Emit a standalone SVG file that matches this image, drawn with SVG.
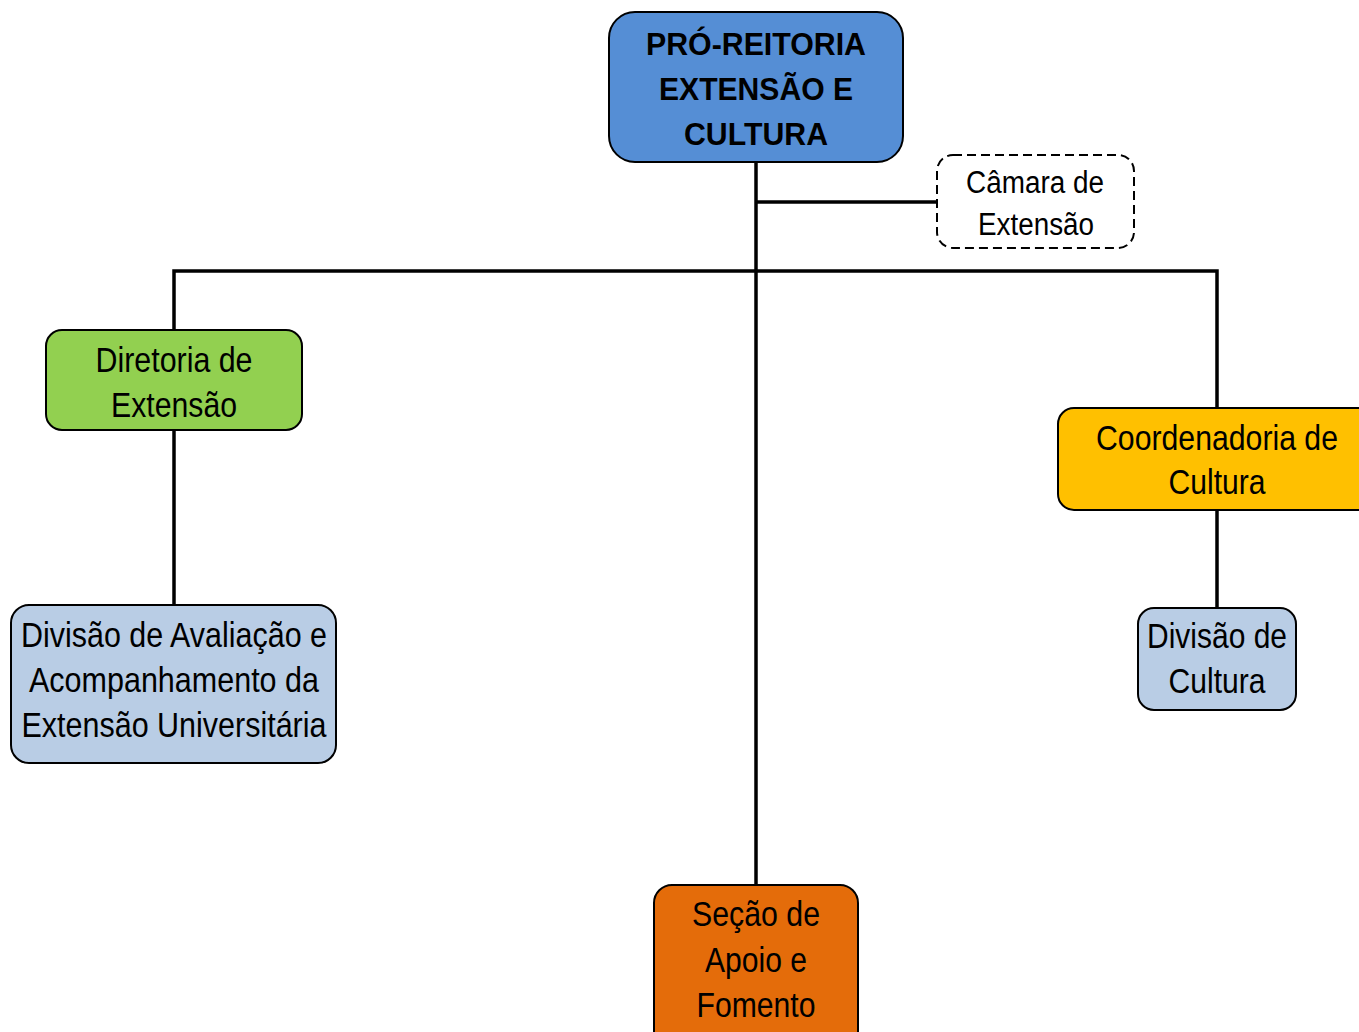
<svg xmlns="http://www.w3.org/2000/svg" width="1359" height="1032" viewBox="0 0 1359 1032">
<style>
.box{stroke:#000;stroke-width:2}
.t{font-family:"Liberation Sans",Arial,sans-serif;font-size:35px;fill:#000;text-anchor:middle}
.b{font-weight:bold;font-size:32px}
.s{font-size:31px}
.c{fill:none;stroke:#000;stroke-width:3.5}
</style>
<rect width="1359" height="1032" fill="#fff"/>
<g id="connectors">
<path class="c" d="M756 162V885"/>
<path class="c" d="M756 202H937"/>
<path class="c" d="M174 330V271H1217V408"/>
<path class="c" d="M174 430V605"/>
<path class="c" d="M1217 510V608"/>
</g>
<g id="pro-reitoria">
<rect class="box" x="609" y="12" width="294" height="150" rx="26" fill="#558ED5"/>
<text class="t b" x="756" y="55" textLength="220" lengthAdjust="spacingAndGlyphs">PRÓ-REITORIA</text>
<text class="t b" x="756" y="100" textLength="194" lengthAdjust="spacingAndGlyphs">EXTENSÃO E</text>
<text class="t b" x="756" y="145" textLength="144" lengthAdjust="spacingAndGlyphs">CULTURA</text>
</g>
<g id="camara">
<rect x="937" y="155" width="197" height="93" rx="16" fill="#fff" stroke="#000" stroke-width="2" stroke-dasharray="9,5"/>
<text class="t s" x="1035" y="193" textLength="138" lengthAdjust="spacingAndGlyphs">Câmara de</text>
<text class="t s" x="1036" y="235" textLength="116" lengthAdjust="spacingAndGlyphs">Extensão</text>
</g>
<g id="diretoria">
<rect class="box" x="46" y="330" width="256" height="100" rx="16" fill="#92D050"/>
<text class="t" x="174" y="372" textLength="157" lengthAdjust="spacingAndGlyphs">Diretoria de</text>
<text class="t" x="174" y="417" textLength="126" lengthAdjust="spacingAndGlyphs">Extensão</text>
</g>
<g id="divisao-avaliacao">
<rect class="box" x="11" y="605" width="325" height="158" rx="18" fill="#B9CDE5"/>
<text class="t" x="174" y="647" textLength="306" lengthAdjust="spacingAndGlyphs">Divisão de Avaliação e</text>
<text class="t" x="174" y="692" textLength="290" lengthAdjust="spacingAndGlyphs">Acompanhamento da</text>
<text class="t" x="174" y="737" textLength="305" lengthAdjust="spacingAndGlyphs">Extensão Universitária</text>
</g>
<g id="coordenadoria">
<rect class="box" x="1058" y="408" width="330" height="102" rx="16" fill="#FFC000"/>
<text class="t" x="1217" y="450" textLength="242" lengthAdjust="spacingAndGlyphs">Coordenadoria de</text>
<text class="t" x="1217" y="494" textLength="97" lengthAdjust="spacingAndGlyphs">Cultura</text>
</g>
<g id="divisao-cultura">
<rect class="box" x="1138" y="608" width="158" height="102" rx="16" fill="#B9CDE5"/>
<text class="t" x="1217" y="648" textLength="140" lengthAdjust="spacingAndGlyphs">Divisão de</text>
<text class="t" x="1217" y="693" textLength="97" lengthAdjust="spacingAndGlyphs">Cultura</text>
</g>
<g id="secao">
<rect class="box" x="654" y="885" width="204" height="170" rx="18" fill="#E46C0A"/>
<text class="t" x="756" y="926" textLength="128" lengthAdjust="spacingAndGlyphs">Seção de</text>
<text class="t" x="756" y="972" textLength="102" lengthAdjust="spacingAndGlyphs">Apoio e</text>
<text class="t" x="756" y="1017" textLength="119" lengthAdjust="spacingAndGlyphs">Fomento</text>
</g>
</svg>
